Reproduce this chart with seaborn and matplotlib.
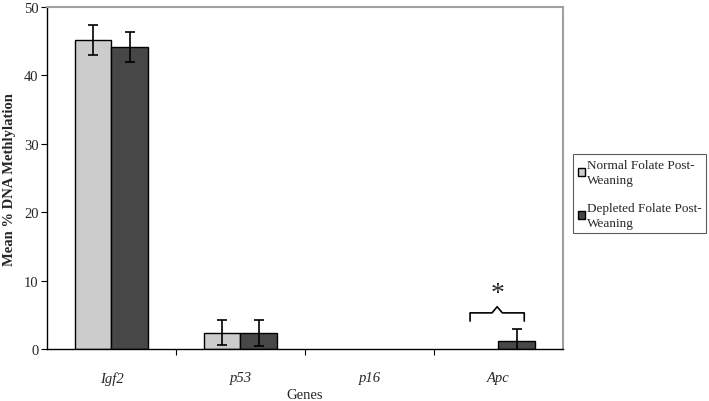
import matplotlib
matplotlib.use("Agg")
import matplotlib.pyplot as plt
import seaborn as sns
import pandas as pd
from matplotlib.patches import Patch

genes = ["Igf2", "p53", "p16", "Apc"]
groups = ["Normal Folate Post-\nWeaning", "Depleted Folate Post-\nWeaning"]
normal_vals = [45.2, 2.4, 0.0, 0.0]
depleted_vals = [44.2, 2.4, 0.0, 1.2]
normal_err = [2.2, 1.8, 0.0, 0.0]
depleted_err = [2.2, 1.9, 0.0, 1.8]
colors = ["#cccccc", "#474747"]

df = pd.DataFrame({
    "Gene": genes * 2,
    "Group": [groups[0]] * 4 + [groups[1]] * 4,
    "Value": normal_vals + depleted_vals,
    "Err": normal_err + depleted_err,
})

sns.set_theme(style="white")
plt.rcParams["font.family"] = ["Liberation Serif", "DejaVu Serif"]

fig = plt.figure(figsize=(7.09, 4.02), dpi=100)
ax = fig.add_axes([0.0663, 0.129, 0.7277, 0.851])

sns.barplot(data=df, x="Gene", y="Value", hue="Group", order=genes,
            hue_order=groups, palette=colors, width=0.57, errorbar=None,
            edgecolor="black", linewidth=1.0, ax=ax, legend=False)

# error bars at bar centers
for cont, grp in zip(ax.containers, groups):
    sub = df[df["Group"] == grp].set_index("Gene").loc[genes]
    for patch, (val, err) in zip(cont.patches, zip(sub["Value"], sub["Err"])):
        if val == 0:
            patch.set_visible(False)
        if err > 0:
            xc = patch.get_x() + patch.get_width() / 2
            ax.errorbar(xc, val, yerr=err, color="black", capsize=3.5,
                        elinewidth=1.2, capthick=1.2, fmt="none")

ax.set_ylim(0, 50)
ax.set_xlim(-0.5, 3.5)
ax.set_yticks([0, 10, 20, 30, 40, 50])
ax.tick_params(axis="y", direction="out", length=4, width=0.8, left=True,
               labelsize=10.5, pad=2, color="black")
ax.set_xticks([0.5, 1.5, 2.5], minor=True)
ax.tick_params(axis="x", which="minor", direction="out", length=4, width=0.8,
               bottom=True, color="black")
ax.tick_params(axis="x", which="major", length=0, labelsize=10.5, pad=16)
for lbl in ax.get_xticklabels():
    lbl.set_fontstyle("italic")

ax.set_ylabel("Mean % DNA Methlylation", fontsize=10.5, fontweight="bold", labelpad=6)
ax.set_xlabel("Genes", fontsize=10.5, labelpad=2)

for side in ["left", "bottom"]:
    ax.spines[side].set_color("black")
    ax.spines[side].set_linewidth(1.0)
for side in ["top", "right"]:
    ax.spines[side].set_color("#a0a0a0")
    ax.spines[side].set_linewidth(1.5)

# significance bracket over Apc
xb0, xb1, xm = 2.78, 3.2, 2.99
yb = 5.3
ax.plot([xb0, xb0, xm - 0.04, xm, xm + 0.04, xb1, xb1],
        [yb - 1.2, yb, yb, yb + 0.9, yb, yb, yb - 1.2], color="black", lw=1.2,
        solid_joinstyle="round")
ax.text(xm, yb + 1.0, "*", ha="center", va="bottom", fontsize=20)

handles = [Patch(facecolor=c, edgecolor="black", linewidth=1.0) for c in colors]
leg = fig.legend(handles, groups, loc="upper left",
                 bbox_to_anchor=(573 / 709, 1 - 155 / 402), frameon=True,
                 fontsize=9.5, handlelength=0.55, handleheight=0.55,
                 handletextpad=0.15, labelspacing=1.2, borderpad=0.35,
                 borderaxespad=0, fancybox=False)
leg.get_frame().set_edgecolor("#333333")
leg.get_frame().set_linewidth(0.8)
for t in leg.get_texts():
    t.set_linespacing(1.35)

fig.savefig("out.png", dpi=100)
